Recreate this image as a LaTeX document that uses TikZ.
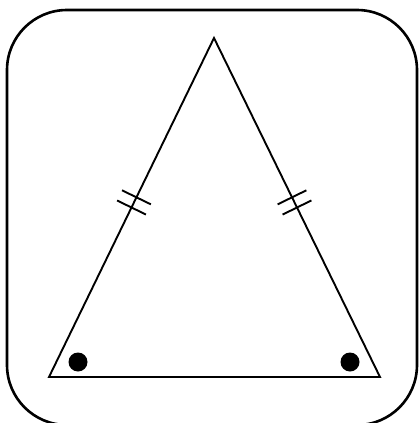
\documentclass[tikz,border=0pt]{standalone}
\usetikzlibrary{calc}
\begin{document}
\begin{tikzpicture}[x=1pt,y=-1pt,
  frame/.style={line width=2.6pt, rounded corners=60pt},
  side/.style={line width=1.9pt, line join=miter},
  tick/.style={line width=1.9pt},
  dot/.style={fill=black}]
\useasboundingbox (0,0) rectangle (419,423);
\clip (0,0) rectangle (419,423);
\draw[frame] (7,10) rectangle (417,425);
\coordinate (A) at (49,377);
\coordinate (B) at (380,377);
\coordinate (C) at (214,38);
\draw[side] (A) -- (B) -- (C) -- cycle;
% tick marks on equal sides
\coordinate (l1) at ($(A)!0.50!(C)$);
\coordinate (l2) at ($(A)!0.53!(C)$);
\coordinate (r1) at ($(B)!0.50!(C)$);
\coordinate (r2) at ($(B)!0.53!(C)$);
\foreach \p in {l1,l2}{
  \draw[tick] ($(\p)!16pt!90:(C)$) -- ($(\p)!16pt!-90:(C)$);
}
\foreach \p in {r1,r2}{
  \draw[tick] ($(\p)!16pt!90:(C)$) -- ($(\p)!16pt!-90:(C)$);
}
\fill[dot] (78,362) circle (9.5pt);
\fill[dot] (350,362) circle (9.5pt);
\end{tikzpicture}
\end{document}
